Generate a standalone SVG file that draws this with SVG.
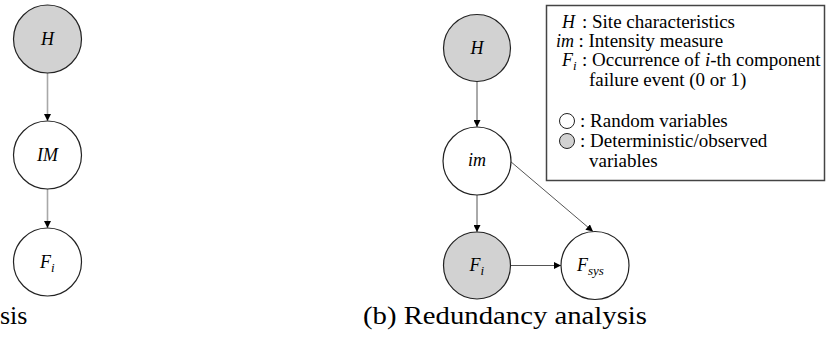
<svg xmlns="http://www.w3.org/2000/svg" width="826" height="340" viewBox="0 0 826 340">
  <defs>
    <marker id="arrow" viewBox="0 0 10 10" refX="10" refY="5" markerWidth="7" markerHeight="7" markerUnits="userSpaceOnUse" orient="auto">
      <path d="M0,0 L10,5 L0,10 z" fill="#000"/>
    </marker>
    <style>
      .node { stroke: #222; stroke-width: 1.2; }
      .open { fill: #fff; }
      .shade { fill: #d2d2d2; }
      .math { font-family: "Liberation Serif", "DejaVu Serif", serif; font-style: italic; font-size: 18px; fill: #000; }
      .sub { font-size: 13px; }
      .leg { font-family: "Liberation Serif", "Times New Roman", serif; font-size: 19px; fill: #000; }
      .cap { font-family: "Liberation Serif", "DejaVu Serif", serif; font-size: 26px; fill: #000; }
      .edgeA { stroke: #a8a8a8; stroke-width: 1.6; fill: none; }
      .edgeB { stroke: #555; stroke-width: 1; fill: none; }
    </style>
  </defs>

  <rect width="826" height="340" fill="#fff"/>

  <!-- connectors -->
  <g id="connectors">
    <line class="edgeA" x1="47.5" y1="73" x2="47.5" y2="121" marker-end="url(#arrow)"/>
    <line class="edgeA" x1="47.5" y1="189" x2="47.5" y2="228" marker-end="url(#arrow)"/>
    <line class="edgeB" x1="477" y1="81" x2="477" y2="127" marker-end="url(#arrow)"/>
    <line class="edgeB" x1="477" y1="195" x2="477" y2="232" marker-end="url(#arrow)"/>
    <line class="edgeB" x1="511" y1="265.5" x2="561" y2="265.5" marker-end="url(#arrow)"/>
    <line class="edgeB" x1="510" y1="161" x2="593" y2="231.5" marker-end="url(#arrow)"/>
  </g>

  <!-- left graph -->
  <g id="a-H">
    <circle class="node shade" cx="47.5" cy="39" r="34"/>
    <text class="math" x="47.5" y="45" text-anchor="middle">H</text>
  </g>
  <g id="a-IM">
    <circle class="node open" cx="47.5" cy="155" r="34"/>
    <text class="math" x="47.5" y="161" text-anchor="middle">IM</text>
  </g>
  <g id="a-Fi">
    <circle class="node open" cx="47.5" cy="262" r="34"/>
    <text class="math" x="40" y="268">F<tspan class="sub" dy="4">i</tspan></text>
  </g>
  <text class="cap" x="0" y="324">sis</text>

  <!-- right graph -->
  <g id="b-H">
    <circle class="node shade" cx="477" cy="48" r="33.5"/>
    <text class="math" x="477" y="54" text-anchor="middle">H</text>
  </g>
  <g id="b-im">
    <circle class="node open" cx="477" cy="161" r="34"/>
    <text class="math" x="477" y="166" text-anchor="middle">im</text>
  </g>
  <g id="b-Fi">
    <circle class="node shade" cx="477" cy="265.5" r="33.5"/>
    <text class="math" x="469.5" y="271">F<tspan class="sub" dy="4">i</tspan></text>
  </g>
  <g id="b-Fsys">
    <circle class="node open" cx="595" cy="265.5" r="34"/>
    <text class="math" x="577" y="271">F<tspan class="sub" dy="4">sys</tspan></text>
  </g>
  <text class="cap" x="363" y="324" textLength="284" lengthAdjust="spacingAndGlyphs">(b) Redundancy analysis</text>

  <!-- legend -->
  <g id="legend">
    <rect x="546.5" y="5.5" width="278" height="175" fill="#fff" stroke="#444" stroke-width="1.5"/>
    <text class="math" x="562" y="28">H</text>
    <text class="leg" x="582" y="28">: Site characteristics</text>
    <text class="math" x="556" y="47">im</text>
    <text class="leg" x="578.5" y="47">: Intensity measure</text>
    <text class="math" x="562" y="66">F<tspan class="sub" dy="4">i</tspan></text>
    <text class="leg" x="582" y="66">: Occurrence of <tspan font-style="italic">i</tspan>-th component</text>
    <text class="leg" x="589" y="86">failure event (0 or 1)</text>
    <circle cx="567" cy="121" r="7.5" fill="#fff" stroke="#222" stroke-width="1"/>
    <text class="leg" x="580" y="127">: Random variables</text>
    <circle cx="567" cy="141" r="7.5" fill="#d2d2d2" stroke="#222" stroke-width="1"/>
    <text class="leg" x="580" y="147">: Deterministic/observed</text>
    <text class="leg" x="589" y="167">variables</text>
  </g>
</svg>
